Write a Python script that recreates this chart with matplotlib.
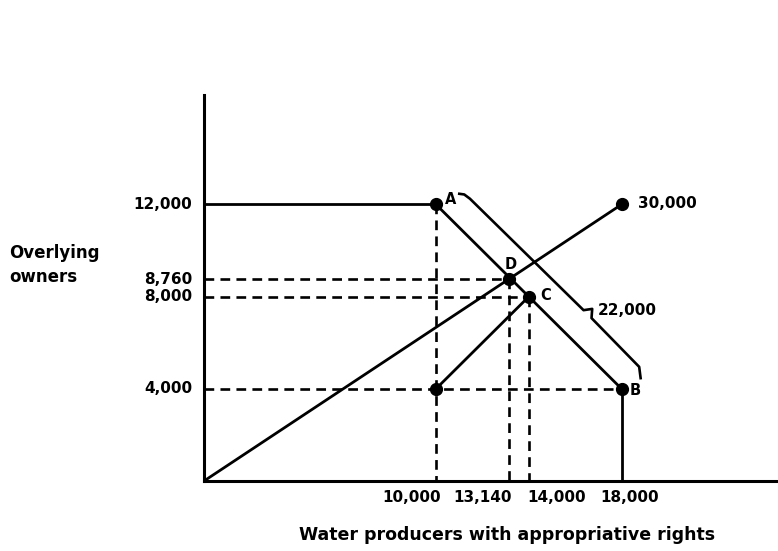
import matplotlib
matplotlib.use('Agg')
import matplotlib.pyplot as plt
import numpy as np

# labelled points: (water producers, overlying owners)
point_names = ['A', 'B', 'C', 'D']
producers = [10000, 18000, 14000, 13140]
owners = [12000, 4000, 8000, 8760]

# unlabelled start point and the end of the 30,000 line
start_x, start_y = 10000, 4000
end_x, end_y = 18000, 12000
end_label = '30,000'
brace_label = '22,000'

x_ticks = [10000, 13140, 14000, 18000]
x_tick_labels = ['10,000', '13,140', '14,000', '18,000']
y_ticks = [12000, 8760, 8000, 4000]
y_tick_labels = ['12,000', '8,760', '8,000', '4,000']

plt.rcParams['lines.scale_dashes'] = False
plt.rcParams['font.family'] = 'DejaVu Sans'
plt.rcParams['font.weight'] = 'bold'

W, H = 778, 551
fig = plt.figure(figsize=(W / 100, H / 100), dpi=100)
ax = fig.add_axes([204 / W, (H - 481) / H, 573 / W, 386 / H])
ax.set_xlim(0, 24700)
ax.set_ylim(0, 16750)
for s in ['top', 'right']:
    ax.spines[s].set_visible(False)
for s in ['left', 'bottom']:
    ax.spines[s].set_linewidth(2.2)
ax.set_xticks([])
ax.set_yticks([])

P = dict(zip(point_names, zip(producers, owners)))
solid = dict(color='black', lw=2.0, solid_capstyle='butt')
dash = dict(color='black', lw=1.9, dashes=(7, 4.5), dash_capstyle='butt')

# solid lines
ax.plot([0, P['A'][0]], [P['A'][1], P['A'][1]], **solid)
ax.plot([P['A'][0], P['B'][0]], [P['A'][1], P['B'][1]], **solid)
ax.plot([0, end_x], [0, end_y], **solid)
ax.plot([start_x, P['C'][0]], [start_y, P['C'][1]], **solid)
ax.plot([P['B'][0], P['B'][0]], [P['B'][1], 0], **solid)

# dashed guide lines
ax.plot([P['A'][0], P['A'][0]], [P['A'][1], 0], **dash)
ax.plot([0, P['B'][0]], [P['B'][1], P['B'][1]], **dash)
for n in ['C', 'D']:
    px, py = P[n]
    ax.plot([0, px], [py, py], **dash)
    ax.plot([px, px], [py, 0], **dash)

# dots
dot_x = producers + [start_x, end_x]
dot_y = owners + [start_y, end_y]
ax.plot(dot_x, dot_y, 'o', color='black', ms=8.5, zorder=5)

# point letters
letter_off = {'A': (15, 5), 'B': (14, -2), 'C': (17, 1), 'D': (2, 15)}
for n in point_names:
    ax.annotate(n, xy=P[n], xytext=letter_off[n], textcoords='offset pixels',
                ha='center', va='center', fontsize=10.5, fontweight='bold')
ax.annotate(end_label, xy=(end_x, end_y), xytext=(16, 1), textcoords='offset pixels',
            ha='left', va='center', fontsize=11, fontweight='bold')

# brace alongside A-B, built in display space
a = ax.transData.transform(P['A'])
b = ax.transData.transform(P['B'])
u = (b - a) / np.linalg.norm(b - a)
nrm = np.array([-u[1], u[0]])
L = np.linalg.norm(b - a)
along = [9, 13, 20, 0.685 * L, 0.705 * L, 0.728 * L, L - 3, L + 6]
perp = [24, 27, 28, 29, 36, 29, 28, 21]
pts = np.array([a + s * u + p * nrm for s, p in zip(along, perp)])
bd = ax.transData.inverted().transform(pts)
ax.plot(bd[:, 0], bd[:, 1], color='black', lw=1.9, clip_on=False)
ax.annotate(brace_label, xy=bd[4], xytext=(6, -2), textcoords='offset pixels',
            ha='left', va='center', fontsize=11, fontweight='bold')

# tick labels
for v, t in zip(y_ticks, y_tick_labels):
    ax.annotate(t, xy=(0, v), xytext=(-12, 0), textcoords='offset pixels',
                ha='right', va='center', fontsize=11, fontweight='bold')
x_lab_off = [-24, -26, 28, 8]
for v, t, o in zip(x_ticks, x_tick_labels, x_lab_off):
    ax.annotate(t, xy=(v, 0), xytext=(o, -16), textcoords='offset pixels',
                ha='center', va='center', fontsize=11, fontweight='bold')

# axis titles
fig.text(9 / W, 1 - 265 / H, 'Overlying\nowners', ha='left', va='center',
         fontsize=12, fontweight='bold', linespacing=1.45)
fig.text(507 / W, 1 - 535 / H, 'Water producers with appropriative rights',
         ha='center', va='center', fontsize=12.5, fontweight='bold')

fig.savefig('out.png', dpi=100)
